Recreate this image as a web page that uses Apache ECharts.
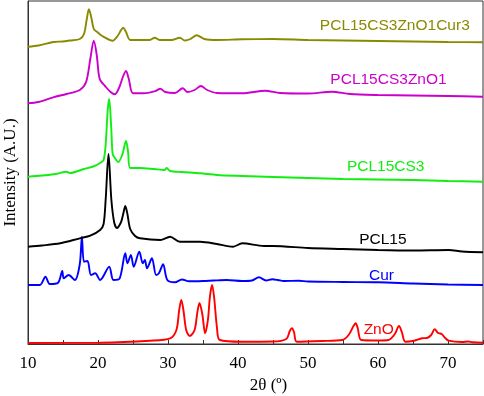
<!DOCTYPE html>
<html>
<head>
<meta charset="utf-8">
<script src="https://cdn.jsdelivr.net/npm/echarts@6/dist/echarts.min.js"></script>
<style>
  html, body { margin: 0; padding: 0; background: #fff; }
  #chart { width: 484px; height: 396px; }
</style>
</head>
<body>
<div id="chart"></div>
<script>
// 2θ (deg), intensity (a.u., stacked offsets)
const curZnOCur3 = [[10,297.3],[11.5,298.5],[13.6,302],[15,302.5],[16,303.5],[17.4,305],[18,310],[18.4,325],[18.7,334.7],[19,328],[19.4,315],[19.9,312],[20.6,308],[22.1,303.3],[22.8,308],[23.3,314],[23.6,316.3],[24,312],[24.6,304],[26,304],[27.4,304],[28.1,306.3],[28.8,304],[30.5,304],[31.7,306.3],[32.4,303.5],[33.2,305],[34.1,308.7],[35.2,305],[37,304],[40.6,304.7],[45,305],[50,304],[55,303.5],[60,303],[65,302.5],[70,302],[75,301.7]];
const curZnO1 = [[10,240.7],[11.5,242],[13.6,246.7],[15.5,250],[17.4,254],[18.3,262],[18.9,285],[19.4,303.3],[19.8,290],[20.1,270],[20.3,264],[21,258],[21.8,252],[22.4,249.7],[23,256],[23.6,268],[24,273],[24.4,265],[25,250.7],[26.5,250.7],[28.2,253],[28.9,255.3],[29.6,252],[31,251],[32.1,255.7],[32.8,252],[33.8,254],[34.7,258],[35.6,254],[37,251],[40.6,250.7],[43.9,253.3],[46,251],[50,250.5],[53.4,252.3],[56,250],[60,249],[65,248.5],[70,248],[75,247.3]];
const curCS3 = [[10,167.3],[12,168.5],[14,170],[15.5,172.3],[16,171],[18,175],[19.5,178],[20.3,181],[20.8,184],[21.1,200],[21.4,235],[21.6,245],[21.9,215],[22.1,190],[22.5,185],[22.9,182],[23.5,190],[24,203],[24.3,192],[24.6,176],[26,176],[28,175],[29.5,174],[29.8,176],[30.3,173],[32,172],[34.6,170.7],[37,169],[40.6,168],[45,167],[50,166],[55,165],[60,164.5],[65,164],[70,163],[75,162.3]];
const curPCL15 = [[10,97.3],[12,98.5],[14.6,100.7],[17.4,105.7],[18.9,108.3],[20.3,114],[20.8,120],[21.1,145],[21.5,190],[21.9,145],[22.3,122],[22.7,116],[23.3,122],[23.6,130],[23.9,138],[24.2,130],[24.6,115],[25.3,108],[26,105.7],[28.9,104],[30.3,107.3],[31.7,102.3],[34.6,102.3],[37,100],[39.3,97.3],[40.6,100.7],[43.7,98],[45,98],[50,96],[55,95],[60,94],[65,93.5],[70.1,94],[72,92.5],[75,91.7]];
const curCur = [[10,59],[11.7,59],[12.5,67.3],[13.1,60],[14.3,61.3],[14.9,73],[15.1,65.7],[15.8,69],[16.7,64],[17.4,80],[17.7,107.3],[18,82.3],[18.5,83],[19,69],[19.6,70.7],[20.3,64],[21.6,77.3],[22.2,64],[23.1,65.7],[23.9,90.7],[24.2,80.7],[24.7,89],[25.1,77.3],[25.9,92.3],[26.4,80.7],[26.7,84],[27,75.7],[27.7,85.7],[28.3,69],[28.7,70.7],[29.3,79.7],[29.9,64],[31,61.7],[32,64.5],[33,62.7],[35,63],[36.5,63.5],[38.4,64],[40.6,63],[42,63.5],[43,66.7],[44,63.5],[44.9,64.7],[45.7,64],[46.5,63],[48.7,63.3],[50,62.5],[55,62],[60,61.7],[65,60.5],[70,59.5],[75,59]];
const curZnO = [[10,1],[20.3,1.3],[27.4,3.3],[30.3,5.7],[31.2,14],[31.6,34],[31.9,44],[32.2,34],[32.6,14],[33.1,8],[33.8,14],[34.2,32],[34.5,41],[34.9,30],[35.3,10.7],[35.7,24],[36,48],[36.3,59],[36.6,46],[37,16],[37.4,4],[40.6,2.3],[45,2.5],[46.9,5],[47.4,13],[47.7,15.7],[48,12],[48.4,2.3],[52,3],[54.9,4],[55.8,9],[56.5,18],[56.8,20.7],[57.1,16],[57.6,4],[60,3.5],[61.5,4],[62.4,10],[63,18],[63.4,12],[63.9,2.3],[65,3],[66.3,5.7],[67,6],[67.6,9],[68.1,14.7],[68.6,11],[69.1,10],[69.6,6],[70.1,3.3],[72,2],[72.9,2.5],[73.5,1.7],[75,1.3]];

const names = ['PCL15CS3ZnO1Cur3', 'PCL15CS3ZnO1', 'PCL15CS3', 'PCL15', 'Cur', 'ZnO'];
const curves = [curZnOCur3, curZnO1, curCS3, curPCL15, curCur, curZnO];
const colors = ['#8a8a00', '#cc00cc', '#11ee11', '#000000', '#0000ff', '#ff0000'];
// label centres in data coordinates
const labelAt = [[62.4, 318], [61.5, 264], [61.1, 177], [60.7, 104], [60.5, 68], [60.1, 14]];

const xTicks = { min: 10, max: 75, interval: 10 };

const chart = echarts.init(document.getElementById('chart'));

const series = curves.map((d, i) => ({
  name: names[i],
  type: 'line',
  data: d,
  symbol: 'none',
  smooth: 0.3,
  lineStyle: { color: colors[i], width: 1.9 },
  itemStyle: { color: colors[i] },
  z: 10 - i,
  markPoint: {
    symbol: 'circle',
    symbolSize: 0,
    silent: true,
    label: {
      show: true,
      position: 'inside',
      formatter: names[i],
      color: colors[i],
      fontFamily: 'Liberation Sans',
      fontSize: 15.5
    },
    data: [{ coord: labelAt[i] }]
  }
}));

const option = {
  animation: false,
  grid: {
    left: 28,
    right: 1,
    top: 1,
    bottom: 52,
    outerBoundsMode: 'none',
    show: true,
    borderColor: '#333',
    borderWidth: 1
  },
  xAxis: {
    type: 'value',
    min: xTicks.min,
    max: xTicks.max,
    interval: xTicks.interval,
    name: '2θ (º)',
    nameLocation: 'middle',
    nameGap: 30,
    nameTextStyle: {
      fontFamily: 'Liberation Serif',
      fontSize: 17,
      color: '#000',
      padding: [0, 0, 0, 26]
    },
    axisLine: { show: true, lineStyle: { color: '#333', width: 1 } },
    axisTick: { show: true, inside: true, length: 4, lineStyle: { color: '#333' } },
    minorTick: { show: true, splitNumber: 2, length: 4, lineStyle: { color: '#333' } },
    axisLabel: {
      fontFamily: 'Liberation Serif',
      fontSize: 17,
      color: '#000',
      margin: 11,
      showMaxLabel: false
    },
    splitLine: { show: false }
  },
  yAxis: {
    type: 'value',
    min: 0,
    max: 343,
    name: 'Intensity (A.U.)',
    nameLocation: 'middle',
    nameGap: 9,
    nameTextStyle: {
      fontFamily: 'Liberation Serif',
      fontSize: 17,
      color: '#000'
    },
    axisLine: { show: true, lineStyle: { color: '#333', width: 1 } },
    axisTick: { show: false },
    axisLabel: { show: false },
    splitLine: { show: false }
  },
  series: series
};

chart.setOption(option);
</script>
</body>
</html>
